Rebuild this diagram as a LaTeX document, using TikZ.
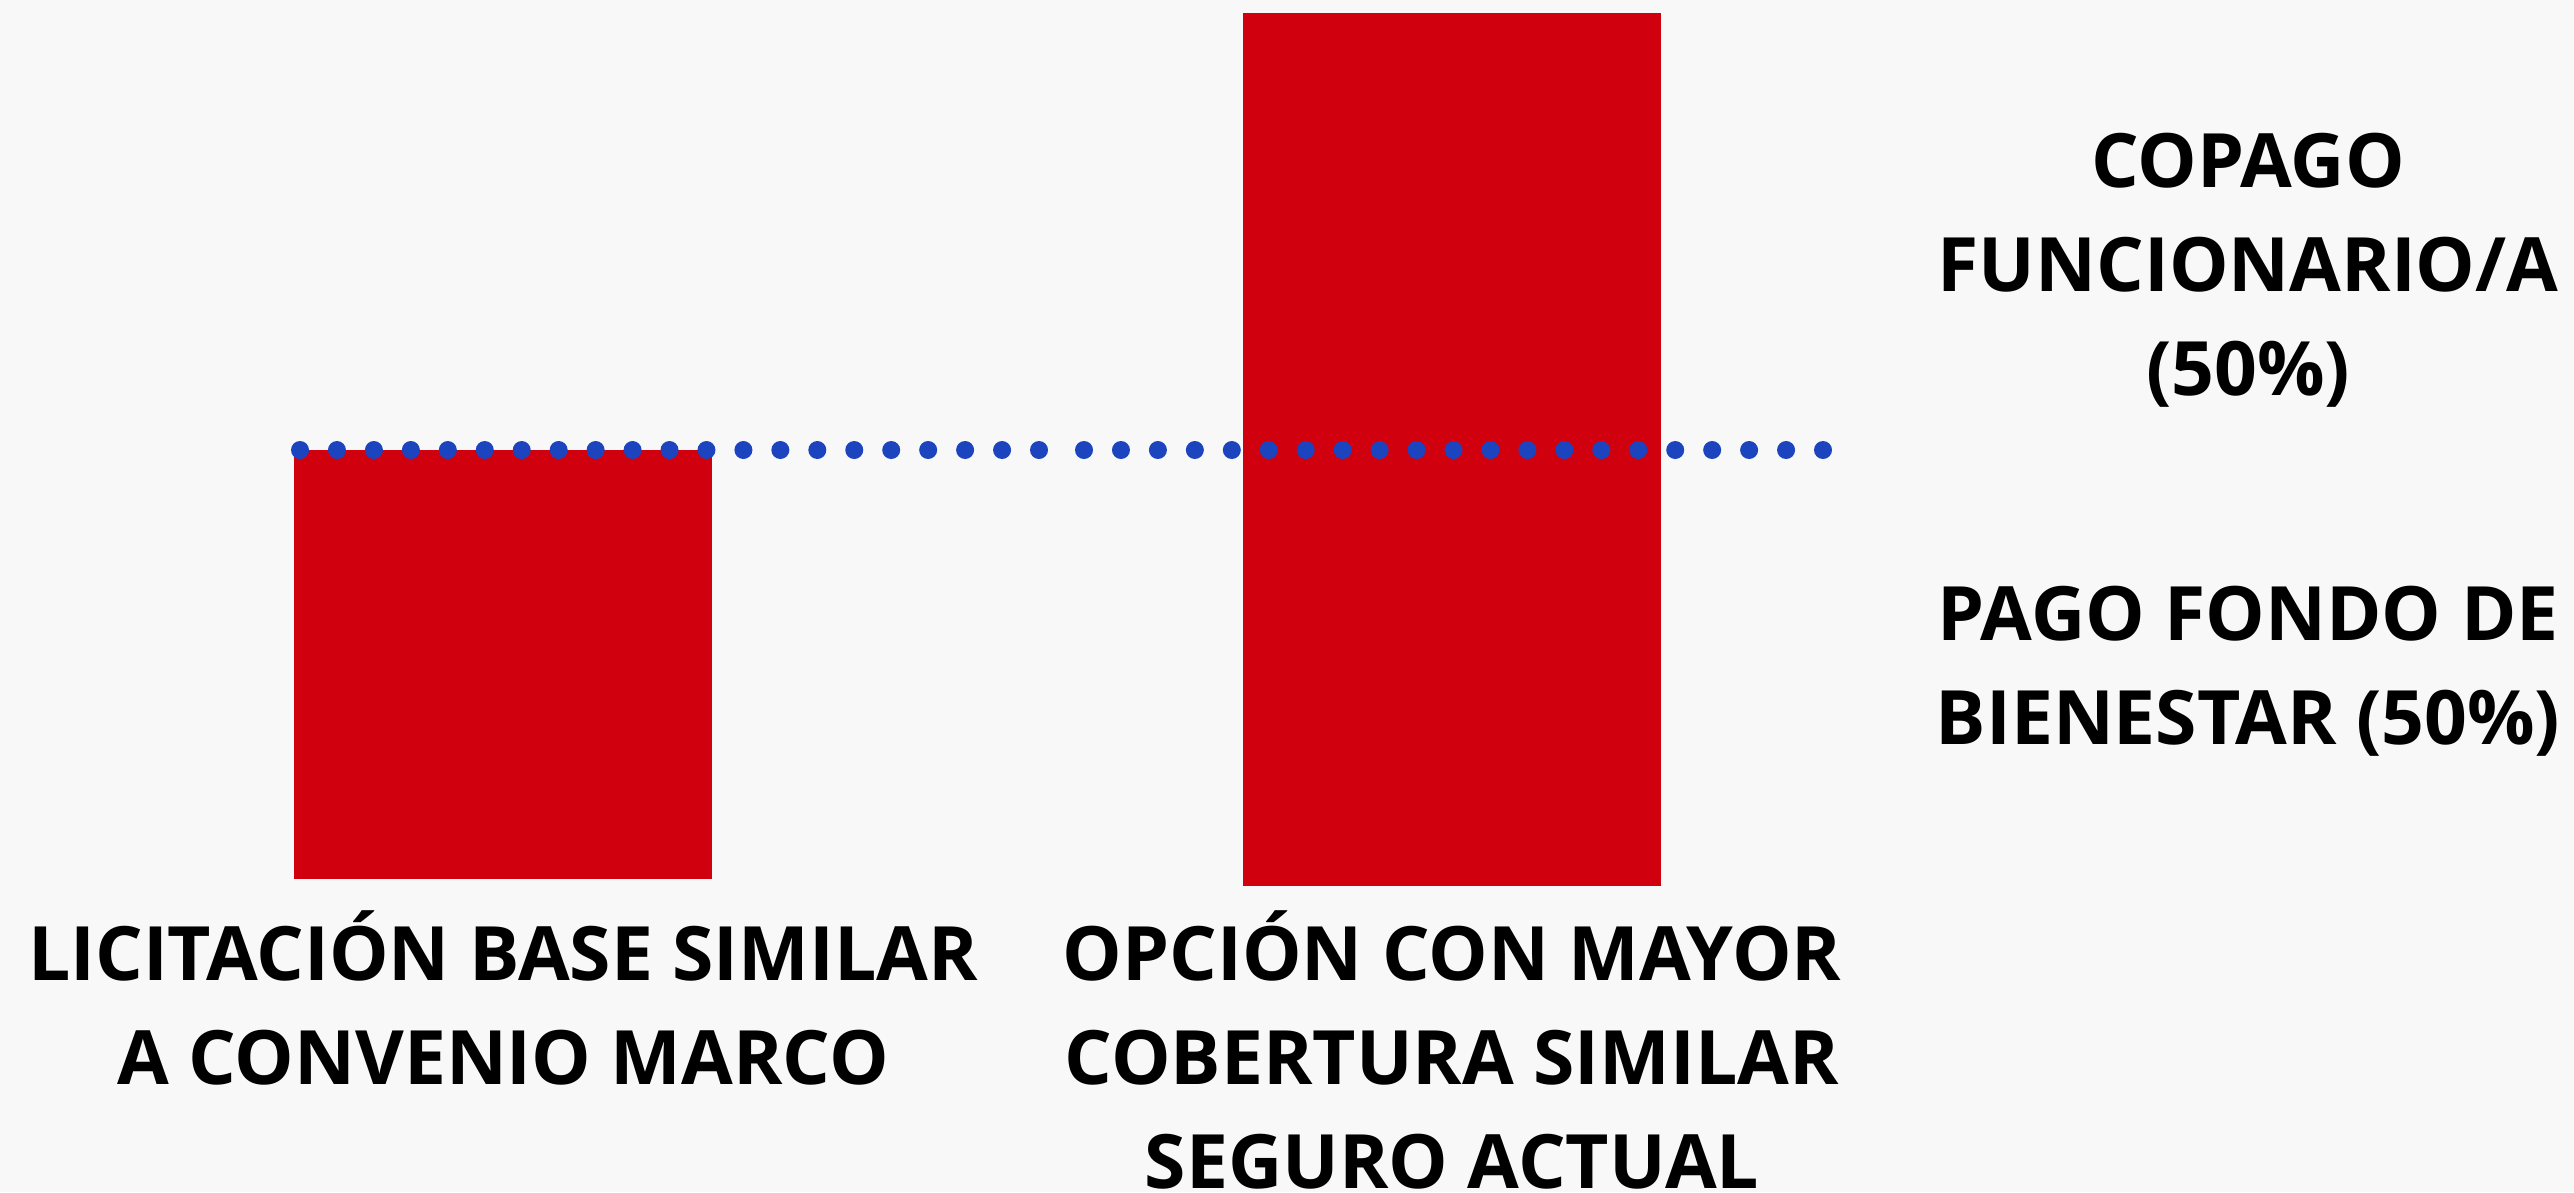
\documentclass[tikz,border=0pt]{standalone}
\usepackage{fontspec}
\setmainfont{Open Sans}
\definecolor{bgc}{RGB}{248,248,248}
\definecolor{barred}{RGB}{208,0,15}
\definecolor{dotblue}{RGB}{27,68,190}
\begin{document}
\begin{tikzpicture}[x=1pt,y=-1pt,
  bar/.style={fill=barred,draw=none,inner sep=0pt,anchor=north west},
  lbl/.style={font=\fontsize{75}{104}\selectfont\bfseries,align=center,inner sep=0pt,anchor=base,text=black},
  dotline/.style={draw=dotblue,line width=18pt,line cap=round,dash pattern=on 0pt off 36.95pt}]
\fill[bgc] (0,0) rectangle (2574,1192);
\useasboundingbox (0,0) rectangle (2574,1192);
\node[bar,minimum width=418pt,minimum height=429pt] (b1) at (294,450) {};
\node[bar,minimum width=418pt,minimum height=873pt] (b2) at (1243,13) {};
\coordinate (d1s) at (300,450);
\coordinate (d1e) at (1039.5,450);
\coordinate (d2s) at (1084,450);
\coordinate (d2e) at (1823.5,450);
\draw[dotline] (d1s) -- (d1e);
\draw[dotline] (d2s) -- (d2e);
\node[lbl] (t1) at (503,1084) {LICITACIÓN BASE SIMILAR\\A CONVENIO MARCO};
\node[lbl] (t2) at (1452,1188) {OPCIÓN CON MAYOR\\COBERTURA SIMILAR\\SEGURO ACTUAL};
\node[lbl] (t3) at (2248,395) {COPAGO\\FUNCIONARIO/A\\(50\%)};
\node[lbl] (t4) at (2248,744) {PAGO FONDO DE\\BIENESTAR (50\%)};
\end{tikzpicture}
\end{document}
